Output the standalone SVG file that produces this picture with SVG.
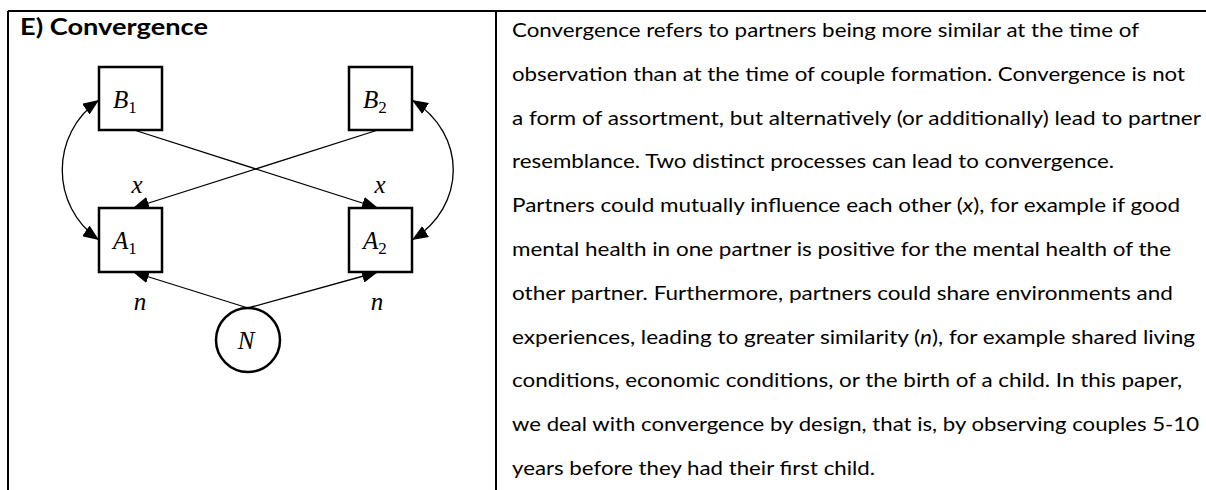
<svg xmlns="http://www.w3.org/2000/svg" width="1206" height="490" viewBox="0 0 1206 490">
<style>
.frame{stroke:#000;stroke-width:2;fill:none}
.box{fill:#fff;stroke:#000;stroke-width:2.5}
.edge{fill:none;stroke:#000;stroke-width:1.3}
.m{font-family:"Liberation Serif","DejaVu Serif",serif;font-style:italic;font-size:25px;fill:#000}
.sub{font-family:"Liberation Serif","DejaVu Serif",serif;font-style:normal;font-size:17px}
.title{font-family:Lato,"Liberation Sans",sans-serif;font-weight:bold;font-size:22px;fill:#000}
.body{font-family:Lato,"Liberation Sans",sans-serif;font-size:19px;fill:#000}
.it{font-style:italic}
</style>
<defs>
<marker id="ah" markerUnits="userSpaceOnUse" markerWidth="16" markerHeight="13" refX="16" refY="6.5" orient="auto-start-reverse">
<path d="M0,0 L16,6.5 L0,13 z" fill="#000"/>
</marker>
</defs>
<rect width="1206" height="490" fill="#fff"/>
<g id="table">
<path class="frame" d="M8,11 H1206 M8,11 V490 M496,11 V490"/>
</g>
<text class="title" x="20" y="35" textLength="188" lengthAdjust="spacingAndGlyphs">E) Convergence</text>
<g id="connectors">
<path class="edge" d="M134,130 L378,208" marker-end="url(#ah)"/>
<path class="edge" d="M378,130 L133,208" marker-end="url(#ah)"/>
<path class="edge" d="M248,308 L133,272" marker-end="url(#ah)"/>
<path class="edge" d="M248,308 L378,272" marker-end="url(#ah)"/>
<path class="edge" d="M99,100 C50,134 50,206 99,240" marker-start="url(#ah)" marker-end="url(#ah)"/>
<path class="edge" d="M412,100 C467,134 467,206 412,240" marker-start="url(#ah)" marker-end="url(#ah)"/>
<text class="m" x="137" y="193" text-anchor="middle">x</text>
<text class="m" x="380" y="193" text-anchor="middle">x</text>
<text class="m" x="140" y="310" text-anchor="middle">n</text>
<text class="m" x="377" y="310" text-anchor="middle">n</text>
</g>
<g id="B1">
<rect class="box" x="99" y="67" width="63" height="63"/>
<text class="m" x="113" y="108">B<tspan class="sub" dy="5">1</tspan></text>
</g>
<g id="B2">
<rect class="box" x="349" y="67" width="63" height="63"/>
<text class="m" x="363" y="108">B<tspan class="sub" dy="5">2</tspan></text>
</g>
<g id="A1">
<rect class="box" x="99" y="208" width="63" height="64"/>
<text class="m" x="113" y="249">A<tspan class="sub" dy="5">1</tspan></text>
</g>
<g id="A2">
<rect class="box" x="349" y="208" width="63" height="64"/>
<text class="m" x="363" y="249">A<tspan class="sub" dy="5">2</tspan></text>
</g>
<g id="N">
<circle class="box" cx="248" cy="340" r="32"/>
<text class="m" x="246" y="349" text-anchor="middle">N</text>
</g>
<g id="description">
<text class="body" x="512" y="37" textLength="627" lengthAdjust="spacingAndGlyphs">Convergence refers to partners being more similar at the time of</text>
<text class="body" x="512" y="80.8" textLength="673" lengthAdjust="spacingAndGlyphs">observation than at the time of couple formation. Convergence is not</text>
<text class="body" x="512" y="124.6" textLength="689" lengthAdjust="spacingAndGlyphs">a form of assortment, but alternatively (or additionally) lead to partner</text>
<text class="body" x="512" y="168.4" textLength="602" lengthAdjust="spacingAndGlyphs">resemblance. Two distinct processes can lead to convergence.</text>
<text class="body" x="512" y="212.2" textLength="668" lengthAdjust="spacingAndGlyphs">Partners could mutually influence each other (<tspan class="it">x</tspan>), for example if good</text>
<text class="body" x="512" y="256" textLength="659" lengthAdjust="spacingAndGlyphs">mental health in one partner is positive for the mental health of the</text>
<text class="body" x="512" y="299.8" textLength="661" lengthAdjust="spacingAndGlyphs">other partner. Furthermore, partners could share environments and</text>
<text class="body" x="512" y="343.6" textLength="683" lengthAdjust="spacingAndGlyphs">experiences, leading to greater similarity (<tspan class="it">n</tspan>), for example shared living</text>
<text class="body" x="512" y="387.4" textLength="670" lengthAdjust="spacingAndGlyphs">conditions, economic conditions, or the birth of a child. In this paper,</text>
<text class="body" x="512" y="431.2" textLength="687" lengthAdjust="spacingAndGlyphs">we deal with convergence by design, that is, by observing couples 5-10</text>
<text class="body" x="512" y="475" textLength="363" lengthAdjust="spacingAndGlyphs">years before they had their first child.</text>
</g>
</svg>
